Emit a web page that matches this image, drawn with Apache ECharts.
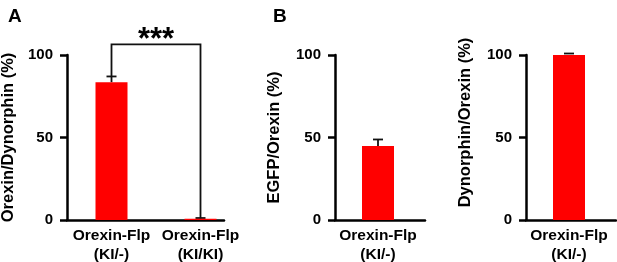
<!DOCTYPE html>
<html>
<head>
<meta charset="utf-8">
<script src="https://cdn.jsdelivr.net/npm/echarts@6/dist/echarts.min.js"></script>
<style>
  html, body { margin: 0; padding: 0; background: #fff; }
  #chart { width: 617px; height: 262px; }
</style>
</head>
<body>
<div id="chart"></div>
<script>
// values
const catsA = ["Orexin-Flp\n(KI/-)", "Orexin-Flp\n(KI/KI)"];
const meanA = [83.5, 0.8];
const errA = [3.5, 0.4];

const catsB = ["Orexin-Flp\n(KI/-)"];
const meanB = [44.8];
const errB = [4];

const catsC = ["Orexin-Flp\n(KI/-)"];
const meanC = [100.6];
const errC = [0.3];

const yTicks = [0, 50, 100];
const sigTop = 106.5;
const sigText = "***";

const FONT = "Liberation Sans, Arial, sans-serif";
const RED = "#ff0000";

const chart = echarts.init(document.getElementById("chart"));

const yAxisBase = (name, gridIndex, gap, pad) => ({
  type: "value",
  gridIndex,
  min: yTicks[0],
  max: yTicks[yTicks.length - 1],
  interval: yTicks[1] - yTicks[0],
  name,
  nameLocation: "middle",
  nameGap: gap,
  nameTextStyle: { fontFamily: FONT, fontWeight: "bold", fontSize: 16.5, color: "#000", padding: pad || 0 },
  axisLine: { show: true, lineStyle: { color: "#000", width: 2.5 } },
  axisTick: { show: true, inside: false, length: 7, lineStyle: { color: "#000", width: 2.5 } },
  axisLabel: { fontFamily: FONT, fontWeight: "bold", fontSize: 15, color: "#000", margin: 14 },
  splitLine: { show: false }
});

const catAxis = (data, gridIndex) => ({
  type: "category",
  gridIndex,
  data,
  axisLine: { show: false },
  axisTick: { show: false },
  axisLabel: { fontFamily: FONT, fontWeight: "bold", fontSize: 15.5, color: "#000", margin: 6, lineHeight: 19, interval: 0 }
});

// plain axes used only to draw the baseline at its real length
const lineX = (gridIndex) => ({
  type: "value",
  gridIndex,
  axisLine: { show: true, onZero: false, lineStyle: { color: "#000", width: 2.5 } },
  axisTick: { show: false },
  axisLabel: { show: false },
  splitLine: { show: false }
});
const lineY = (gridIndex) => ({
  type: "value",
  gridIndex,
  show: false
});

const errorSeries = (xi, yi, means, errs) => ({
  type: "custom",
  xAxisIndex: xi,
  yAxisIndex: yi,
  z: 1,
  data: means.map((m, i) => [i, m, m + errs[i]]),
  renderItem: (params, api) => {
    const lo = api.coord([api.value(0), api.value(1)]);
    const hi = api.coord([api.value(0), api.value(2)]);
    return {
      type: "group",
      children: [
        { type: "line", shape: { x1: lo[0], y1: lo[1], x2: hi[0], y2: hi[1] }, style: { stroke: "#111", lineWidth: 1.8 } },
        { type: "line", shape: { x1: hi[0] - 5, y1: hi[1], x2: hi[0] + 5, y2: hi[1] }, style: { stroke: "#111", lineWidth: 1.8 } }
      ]
    };
  }
});

const barSeries = (xi, yi, means) => ({
  type: "bar",
  xAxisIndex: xi,
  yAxisIndex: yi,
  barWidth: 32,
  data: means,
  itemStyle: { color: RED },
  z: 2
});

const gridAt = (left, width) => ({ left, top: 55, width, height: 165, outerBoundsMode: "none", containLabel: false });

const option = {
  animation: false,
  title: [
    { text: "A", left: 3, top: 2, textStyle: { fontFamily: FONT, fontWeight: "bold", fontSize: 19, color: "#000" } },
    { text: "B", left: 268, top: 2, textStyle: { fontFamily: FONT, fontWeight: "bold", fontSize: 19, color: "#000" } }
  ],
  grid: [
    gridAt(67, 178),
    gridAt(335, 86),
    gridAt(526, 86),
    gridAt(67, 157),
    gridAt(335, 90),
    gridAt(526, 90)
  ],
  xAxis: [catAxis(catsA, 0), catAxis(catsB, 1), catAxis(catsC, 2), lineX(3), lineX(4), lineX(5)],
  yAxis: [
    yAxisBase("Orexin/Dynorphin (%)", 0, 50),
    yAxisBase("EGFP/Orexin (%)", 1, 52),
    yAxisBase("Dynorphin/Orexin (%)", 2, 52, [0, 0, 0, 30]),
    lineY(3), lineY(4), lineY(5)
  ],
  series: [
    barSeries(0, 0, meanA),
    errorSeries(0, 0, meanA, errA),
    barSeries(1, 1, meanB),
    errorSeries(1, 1, meanB, errB),
    barSeries(2, 2, meanC),
    errorSeries(2, 2, meanC, errC),
    {
      // significance bracket between the two genotypes in panel A
      type: "custom",
      xAxisIndex: 0,
      yAxisIndex: 0,
      clip: false,
      data: [[0, 1, meanA[0] + errA[0], meanA[1] + errA[1], sigTop]],
      renderItem: (params, api) => {
        const l0 = api.coord([api.value(0), api.value(2)]);
        const lt = api.coord([api.value(0), api.value(4)]);
        const r0 = api.coord([api.value(1), api.value(3)]);
        const rt = api.coord([api.value(1), api.value(4)]);
        return {
          type: "group",
          children: [
            { type: "polyline", shape: { points: [l0, lt, rt, r0] }, style: { stroke: "#111", lineWidth: 1.8, fill: null } },
            {
              type: "text",
              x: (lt[0] + rt[0]) / 2,
              y: lt[1] - 4,
              style: { text: sigText, fontFamily: FONT, fontWeight: "bold", fontSize: 31, fill: "#000", align: "center", verticalAlign: "middle" }
            }
          ]
        };
      }
    }
  ]
};

chart.setOption(option);
</script>
</body>
</html>
